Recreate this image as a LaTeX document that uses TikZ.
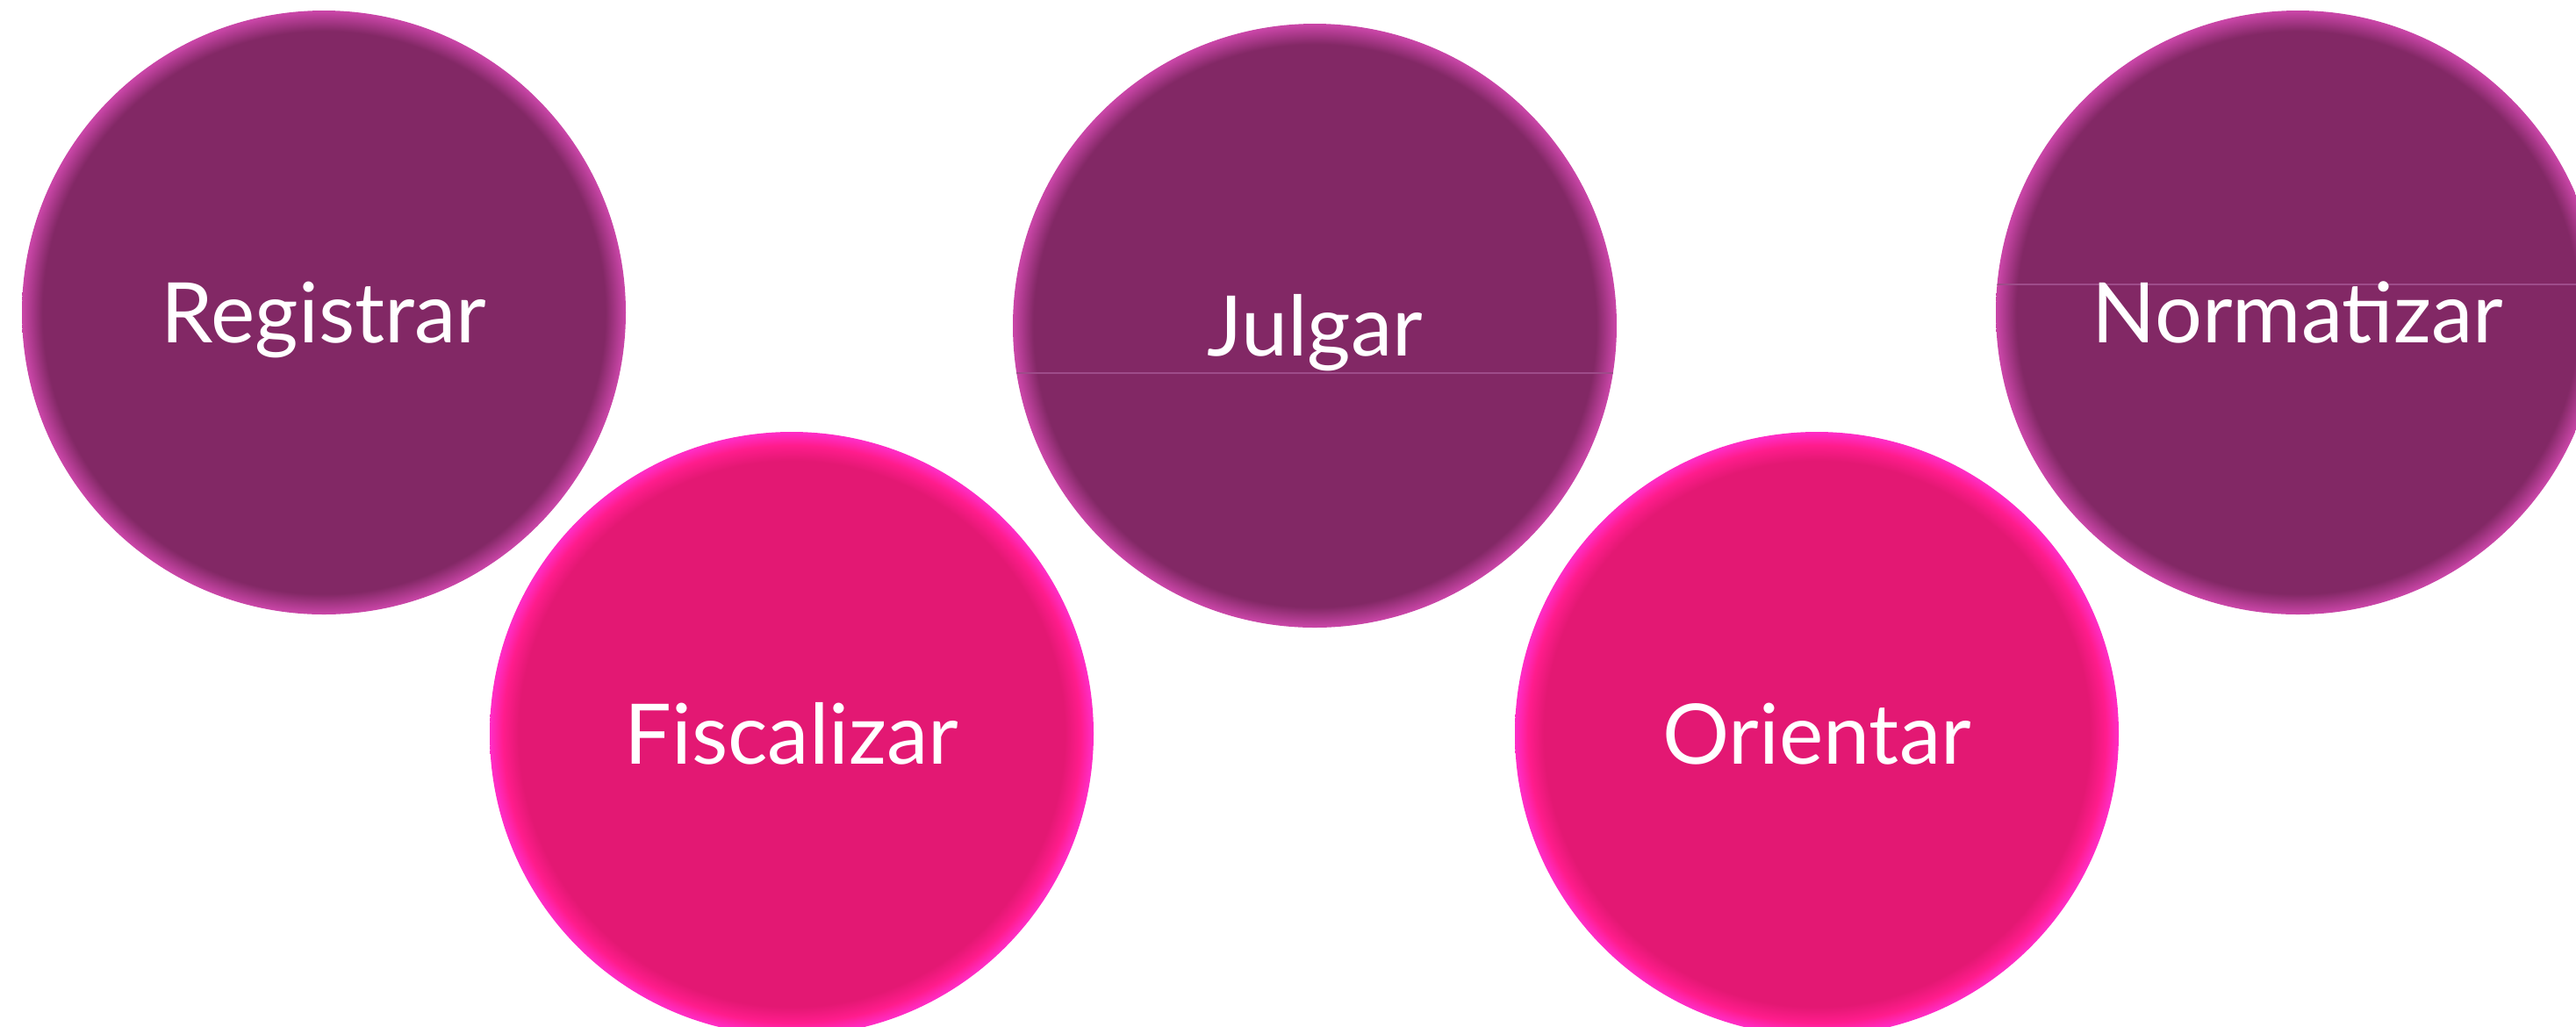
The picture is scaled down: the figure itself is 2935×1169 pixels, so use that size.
\documentclass[tikz,border=0pt]{standalone}
\usepackage{fontspec}
\setmainfont{Lato}
\definecolor{purpM}{HTML}{822865}
\definecolor{purpR}{HTML}{C845A6}
\definecolor{pinkM}{HTML}{E31873}
\definecolor{pinkB}{HTML}{FF1C8C}
\definecolor{pinkR}{HTML}{FF2CC4}
\definecolor{seam}{HTML}{9E4C8A}
\pgfdeclareradialshading{purpball}{\pgfpoint{0bp}{0bp}}{color(0bp)=(purpM); color(23.3bp)=(purpM); color(24.9bp)=(purpR); color(25bp)=(purpR); color(50bp)=(purpR)}
\pgfdeclareradialshading{pinkball}{\pgfpoint{0bp}{0bp}}{color(0bp)=(pinkM); color(22.6bp)=(pinkM); color(23.9bp)=(pinkB); color(24.9bp)=(pinkR); color(25bp)=(pinkR); color(50bp)=(pinkR)}
\tikzset{
  ball/.style={circle, draw=none, inner sep=0pt, minimum size=172pt},
  purpleball/.style={ball, shading=purpball},
  pinkball/.style={ball, shading=pinkball},
  label/.style={text=white, font=\fontsize{23.8}{28}\selectfont, inner sep=0pt, text height=17pt, text depth=0pt},
  seamline/.style={draw=seam, line width=0.4pt}
}
\begin{document}
\begin{tikzpicture}[x=0.25pt,y=-0.25pt]
\useasboundingbox (0,0) rectangle (2935,1169);
\node[purpleball] (reg) at (369,356) {};
\node[pinkball] (fis) at (902,836) {};
\node[purpleball] (jul) at (1498,371) {};
\node[pinkball] (ori) at (2070,836) {};
\node[purpleball] (nor) at (2618,356) {};
\begin{scope}
  \clip (jul) circle[radius=344];
  \draw[seamline] ([xshift=-200pt,yshift=-13.5pt]jul.center) -- ([xshift=200pt,yshift=-13.5pt]jul.center);
\end{scope}
\begin{scope}
  \clip (nor) circle[radius=344];
  \draw[seamline] ([xshift=-200pt,yshift=8pt]nor.center) -- ([xshift=200pt,yshift=8pt]nor.center);
\end{scope}
\node[label] (treg) at (reg.center) {Registrar};
\node[label] (tfis) at (fis.center) {Fiscalizar};
\node[label] (tjul) at (jul.center) {Julgar};
\node[label] (tori) at (ori.center) {Orientar};
\node[label] (tnor) at (nor.center) {Normatizar};
\end{tikzpicture}
\end{document}
